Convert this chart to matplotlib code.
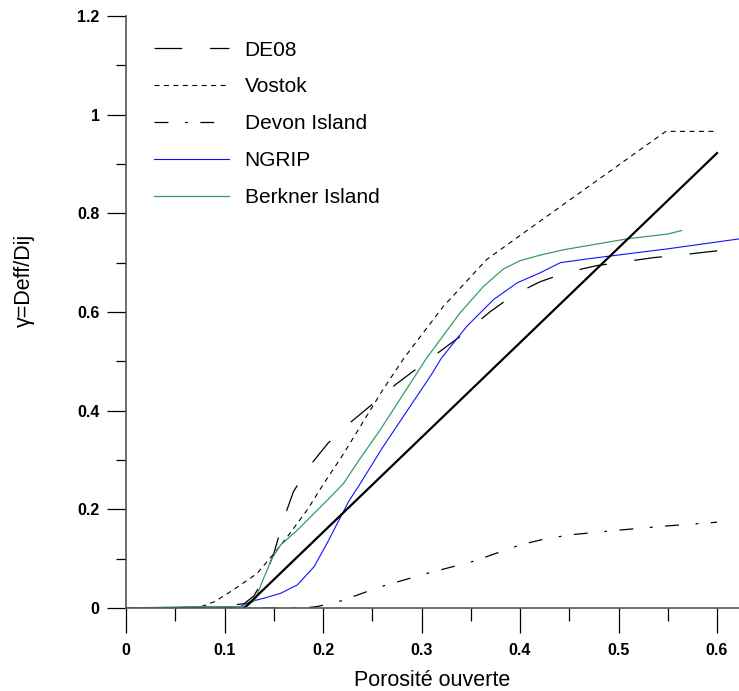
import matplotlib
matplotlib.use('Agg')
import matplotlib.pyplot as plt
import numpy as np

plt.rcParams['font.family'] = ['Liberation Sans', 'DejaVu Sans']
plt.rcParams['lines.scale_dashes'] = False

# Curve Data
de08_x = [0.0, 0.05, 0.1, 0.12, 0.13, 0.14, 0.15, 0.16, 0.17, 0.186, 0.205, 0.227, 0.25,
          0.273, 0.297, 0.322, 0.339, 0.37, 0.393, 0.42, 0.447, 0.478, 0.507, 0.535,
          0.565, 0.596, 0.622]
de08_y = [0.0, 0.001, 0.004, 0.009, 0.025, 0.06, 0.11, 0.18, 0.236, 0.287, 0.334, 0.375, 0.413,
          0.452, 0.488, 0.525, 0.55, 0.601, 0.634, 0.661, 0.68, 0.694, 0.702, 0.71,
          0.716, 0.723, 0.728]

vostok_x = [0.0, 0.07, 0.075, 0.09, 0.109, 0.133, 0.15, 0.164, 0.184, 0.2, 0.22, 0.24,
            0.26, 0.282, 0.322, 0.366, 0.4, 0.454, 0.522, 0.548, 0.6]
vostok_y = [0.0, 0.0, 0.002, 0.013, 0.037, 0.07, 0.11, 0.145, 0.199, 0.25, 0.31, 0.375,
            0.44, 0.506, 0.611, 0.706, 0.755, 0.832, 0.929, 0.966, 0.966]

devon_x = [0.0, 0.1, 0.18, 0.194, 0.219, 0.258, 0.305, 0.353, 0.4, 0.427, 0.454, 0.495,
           0.546, 0.6]
devon_y = [0.0, 0.0, 0.0, 0.003, 0.015, 0.043, 0.07, 0.095, 0.128, 0.141, 0.149, 0.157,
           0.166, 0.174]

ngrip_x = [0.0, 0.1, 0.116, 0.126, 0.14, 0.157, 0.174, 0.191, 0.204, 0.218, 0.226, 0.238,
           0.261, 0.31, 0.32, 0.346, 0.373, 0.397, 0.42, 0.441, 0.47, 0.494, 0.55, 0.622]
ngrip_y = [0.0, 0.0, 0.003, 0.013, 0.02, 0.03, 0.047, 0.084, 0.131, 0.185, 0.216, 0.253,
           0.327, 0.473, 0.506, 0.571, 0.625, 0.659, 0.679, 0.70, 0.708, 0.714, 0.728, 0.748]

berkner_x = [0.0, 0.07, 0.118, 0.122, 0.131, 0.139, 0.148, 0.157, 0.174, 0.191, 0.208,
             0.221, 0.238, 0.258, 0.305, 0.339, 0.363, 0.383, 0.4, 0.42, 0.444, 0.508,
             0.55, 0.564]
berkner_y = [0.0, 0.003, 0.003, 0.003, 0.016, 0.057, 0.1, 0.128, 0.158, 0.192, 0.226,
             0.253, 0.304, 0.361, 0.506, 0.598, 0.652, 0.687, 0.704, 0.715, 0.726, 0.748,
             0.758, 0.765]

fit_x = [0.12, 0.6]
fit_y = [0.0, 0.922]

fig = plt.figure(figsize = (7.39, 6.91), dpi = 100)
ax = fig.add_axes([0.1705, 0.12, 0.8295, 0.857])

ax.plot(de08_x, de08_y, color = 'black', lw = 0.9, dashes = (20, 20), label = 'DE08')
ax.plot(vostok_x, vostok_y, color = 'black', lw = 0.8, dashes = (3.6, 3.2), label = 'Vostok')
ax.plot(devon_x, devon_y, color = 'black', lw = 0.9, dashes = (10, 12, 2, 9), label = 'Devon Island')
ax.plot(ngrip_x, ngrip_y, color = '#1010ff', lw = 0.8, label = 'NGRIP')
ax.plot(berkner_x, berkner_y, color = '#3a9a68', lw = 0.9, label = 'Berkner Island')
ax.plot(fit_x, fit_y, color = 'black', lw = 1.6)

# Axes Limits and Ticks
ax.set_xlim(0, 0.6223)
ax.set_ylim(0, 1.2)
ax.set_xticks(np.arange(0, 0.61, 0.1))
ax.set_xticks(np.arange(0.05, 0.62, 0.1), minor = True)
ax.set_yticks(np.arange(0, 1.21, 0.2))
ax.set_yticks(np.arange(0.1, 1.2, 0.2), minor = True)
ax.set_xticklabels(['0', '0.1', '0.2', '0.3', '0.4', '0.5', '0.6'])
ax.set_yticklabels(['0', '0.2', '0.4', '0.6', '0.8', '1', '1.2'])

ax.tick_params(axis = 'x', which = 'major', direction = 'out', length = 18, width = 0.9, pad = 7)
ax.tick_params(axis = 'x', which = 'minor', direction = 'out', length = 9.5, width = 0.9)
ax.tick_params(axis = 'y', which = 'major', direction = 'out', length = 14, width = 0.9, pad = 5)
ax.tick_params(axis = 'y', which = 'minor', direction = 'out', length = 7, width = 0.9)
for lab in ax.get_xticklabels() + ax.get_yticklabels():
    lab.set_fontweight('bold')
    lab.set_fontsize(11.5)

for side in ['top', 'right']:
    ax.spines[side].set_visible(False)
for side in ['left', 'bottom']:
    ax.spines[side].set_color('#555555')
    ax.spines[side].set_linewidth(1.2)

ax.set_xlabel('Porosité ouverte', fontsize = 15.5)
ax.set_ylabel('γ=Deff/Dij', fontsize = 15.5)
ax.xaxis.set_label_coords(0.5, -0.104)
ax.yaxis.set_label_coords(-0.148, 0.554)

ax.legend(
    loc = 'upper left',
    bbox_to_anchor = (0.015, 0.99),
    frameon = False, fontsize = 15,
    handlelength = 3.6, handletextpad = 0.75, labelspacing = 0.86,
)

fig.savefig('out.png', dpi = 100)
